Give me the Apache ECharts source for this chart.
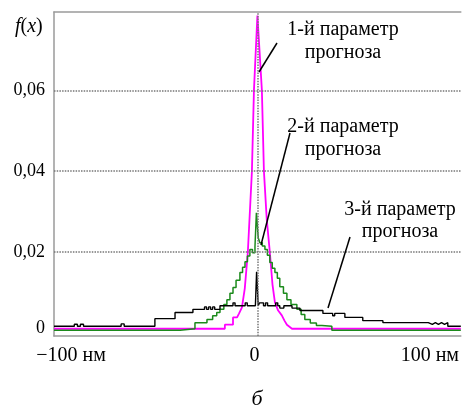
<!DOCTYPE html>
<html><head><meta charset="utf-8">
<script src="https://cdn.jsdelivr.net/npm/echarts@6/dist/echarts.min.js"></script>
<style>html,body{margin:0;padding:0;background:#fff}#c{width:462px;height:408px}</style>
</head><body><div id="c"></div>
<script>
// ---- data ----
const xTickValues = [-100, 0, 100];
const xTickLabels = ['−100 нм', '0', '100 нм'];
const yTickValues = [0, 0.02, 0.04, 0.06];
const yTickLabels = ['0', '0,02', '0,04', '0,06'];
const gridLineValues = [0.02, 0.04, 0.06];
const centerLineValue = [0];

// 1-й параметр прогноза (magenta)
const p1X = [-100, -16, -16, -12, -12, -10, -9, -7.6, -6.2, -4.7, -2.7, -1.7, 0, 2.2, 3.2, 4.6, 6.1, 7.4, 8.6, 10.2, 12, 13.3, 14.5, 17, 100];
const p1Y = [0.001, 0.001, 0.002, 0.002, 0.0038, 0.0038, 0.0048, 0.0063, 0.011, 0.02, 0.04, 0.06, 0.0785, 0.06, 0.04, 0.028, 0.02, 0.012, 0.0075, 0.0055, 0.0043, 0.003, 0.002, 0.001, 0.001];

// 2-й параметр прогноза (green, histogram steps)
const p2X = [-100, -38, -30.7, -27.5, -24.8, -22, -20, -18.4, -16.5, -15, -13.5, -12, -10.5, -8.6, -7.3, -6.1, -4.9, -3.7, -2.4, -1.2, -0.5, 0.4, 1.2, 2.4, 3.7, 4.9, 6.1, 7.3, 8.6, 9.8, 11, 12.8, 14.5, 16.5, 19.4, 21.5, 23.3, 26, 29, 31.7, 36.6, 100];
const p2Y = [0.0006, 0.001, 0.0025, 0.0025, 0.0033, 0.0042, 0.005, 0.0058, 0.007, 0.0082, 0.0098, 0.0112, 0.013, 0.0149, 0.0162, 0.0176, 0.019, 0.0206, 0.0198, 0.0213, 0.0297, 0.0235, 0.0223, 0.0215, 0.0206, 0.0192, 0.0174, 0.016, 0.0149, 0.0135, 0.0114, 0.0098, 0.0082, 0.007, 0.0058, 0.0045, 0.0033, 0.0024, 0.0018, 0.0016, 0.0006, 0.0006];

// 3-й параметр прогноза (black, histogram steps)
const p3X = [-100, -90, -88.5, -87, -85.5, -84, -67, -65.5, -64, -50.4, -40.5, -31.7, -26, -25, -24, -23, -22, -21, -18.4, -12, -11, -10, -6, -5, -1, -0.4, 0.4, 1, 3, 4, 5, 6, 9, 10, 11, 13, 14, 17, 20.9, 32.2, 37, 38, 39, 43, 51.8, 61.7, 84, 86, 87.5, 89, 90.5, 92, 93.6, 100];
const p3Y = [0.0016, 0.0021, 0.0016, 0.0021, 0.0016, 0.0016, 0.0022, 0.0016, 0.0016, 0.0035, 0.005, 0.0058, 0.0064, 0.0058, 0.0064, 0.0058, 0.0064, 0.0058, 0.0067, 0.0074, 0.0067, 0.0067, 0.0074, 0.0067, 0.0067, 0.0151, 0.0067, 0.0074, 0.0067, 0.0074, 0.0067, 0.0067, 0.0074, 0.0067, 0.0061, 0.0067, 0.0067, 0.0061, 0.0055, 0.0048, 0.0042, 0.0048, 0.0048, 0.0038, 0.003, 0.0025, 0.0021, 0.0025, 0.0021, 0.0025, 0.0021, 0.0025, 0.0016, 0.0016];

const pairs = (xs, ys) => xs.map((x, i) => [x, ys[i]]);

const FONT = 'Liberation Serif';
const chart = echarts.init(document.getElementById('c'), null, {renderer: 'canvas'});
const xRich = {
  a: {fontFamily: FONT, fontSize: 20, color: '#000', padding: [0, 0, 0, 34]},
  b: {fontFamily: FONT, fontSize: 20, color: '#000', padding: [0, 6, 0, 0]},
  c: {fontFamily: FONT, fontSize: 20, color: '#000', padding: [0, 62, 0, 0]}
};
const axisGray = '#9a9a9a';
chart.setOption({
  animation: false,
  backgroundColor: '#fff',
  grid: {left: 54, right: 1, top: 12, bottom: 72},
  xAxis: [{
    type: 'value', min: -100, max: 100,
    axisLine: {show: true, onZero: false, lineStyle: {color: axisGray, width: 1.5}},
    axisTick: {show: false},
    splitLine: {show: false},
    axisLabel: {
      customValues: xTickValues, margin: 10, color: '#000',
      fontFamily: FONT, fontSize: 20, rich: xRich,
      formatter: v => {
        const i = xTickValues.indexOf(v);
        return '{' + ['a', 'b', 'c'][i] + '|' + xTickLabels[i] + '}';
      }
    }
  }, {
    type: 'value', min: -100, max: 100, position: 'top',
    axisLine: {show: true, onZero: false, lineStyle: {color: axisGray, width: 1.5}},
    axisTick: {show: false}, axisLabel: {show: false}, splitLine: {show: false}
  }],
  yAxis: {
    type: 'value', min: -0.0008, max: 0.0794,
    axisLine: {show: true, onZero: false, lineStyle: {color: axisGray, width: 1.5}},
    axisTick: {show: false},
    splitLine: {show: false},
    axisLabel: {
      customValues: yTickValues, margin: 9, color: '#000',
      fontFamily: FONT, fontSize: 18,
      rich: {z: {fontFamily: FONT, fontSize: 18, color: '#000', padding: [0, 0, 9, 0]}},
      formatter: v => {
        const i = yTickValues.indexOf(v);
        return i === 0 ? '{z|' + yTickLabels[0] + '}' : yTickLabels[i];
      }
    }
  },
  series: [
    {type: 'line', data: pairs(p1X, p1Y), symbol: 'none', z: 2,
     lineStyle: {color: '#ff00ff', width: 1.8}},
    {type: 'line', data: pairs(p2X, p2Y), symbol: 'none', step: 'end', z: 3,
     lineStyle: {color: '#1b8a1b', width: 1.5}},
    {type: 'line', data: pairs(p3X, p3Y), symbol: 'none', step: 'end', z: 4,
     lineStyle: {color: '#000', width: 1.4}},
    {type: 'line', data: [], z: 5,
     markLine: {
       silent: true, symbol: 'none', label: {show: false},
       lineStyle: {color: '#777', width: 1.5, type: [1.5, 1.2]},
       data: gridLineValues.map(v => ({yAxis: v})).concat(centerLineValue.map(v => ({xAxis: v})))
     }}
  ],
  graphic: [
    {type: 'text', left: 15, top: 17, style: {
      text: '{i|f}({i|x})', fill: '#000', font: '20px ' + FONT,
      rich: {i: {fontStyle: 'italic', fontFamily: FONT, fontSize: 20}}}},
    {type: 'text', x: 343, y: 30, style: {text: '1-й параметр', fill: '#000', font: '20px ' + FONT, textAlign: 'center', textVerticalAlign: 'middle'}},
    {type: 'text', x: 343, y: 53, style: {text: 'прогноза', fill: '#000', font: '20px ' + FONT, textAlign: 'center', textVerticalAlign: 'middle'}},
    {type: 'text', x: 343, y: 127, style: {text: '2-й параметр', fill: '#000', font: '20px ' + FONT, textAlign: 'center', textVerticalAlign: 'middle'}},
    {type: 'text', x: 343, y: 150, style: {text: 'прогноза', fill: '#000', font: '20px ' + FONT, textAlign: 'center', textVerticalAlign: 'middle'}},
    {type: 'text', x: 400, y: 210, style: {text: '3-й параметр', fill: '#000', font: '20px ' + FONT, textAlign: 'center', textVerticalAlign: 'middle'}},
    {type: 'text', x: 400, y: 232, style: {text: 'прогноза', fill: '#000', font: '20px ' + FONT, textAlign: 'center', textVerticalAlign: 'middle'}},
    {type: 'line', z: 10, shape: {x1: 277, y1: 43, x2: 259, y2: 72}, style: {stroke: '#000', lineWidth: 1.5}},
    {type: 'line', z: 10, shape: {x1: 290, y1: 133, x2: 261, y2: 245}, style: {stroke: '#000', lineWidth: 1.5}},
    {type: 'line', z: 10, shape: {x1: 350, y1: 237, x2: 328, y2: 308}, style: {stroke: '#000', lineWidth: 1.5}},
    {type: 'text', x: 257, y: 399, style: {text: 'б', fill: '#000', font: 'italic 22px ' + FONT, textAlign: 'center', textVerticalAlign: 'middle'}}
  ]
});
</script>
</body></html>
